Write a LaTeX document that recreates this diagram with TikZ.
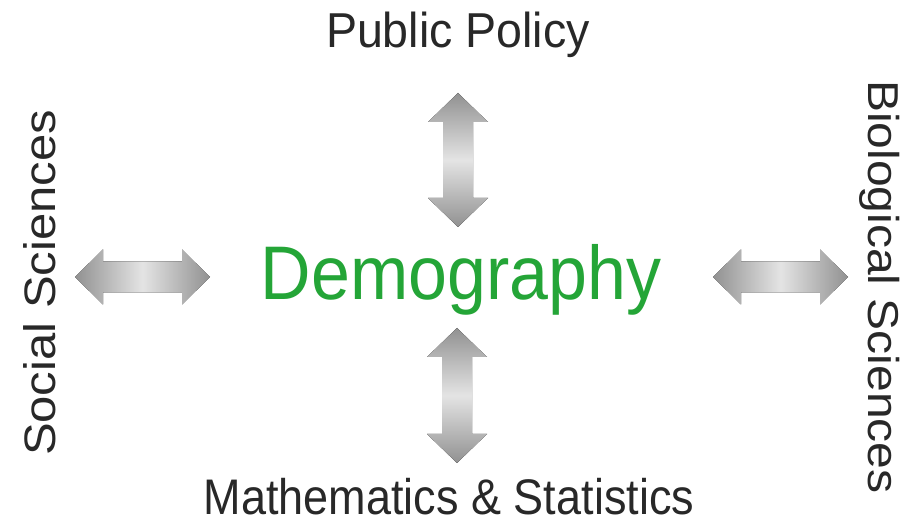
\documentclass[tikz,border=0pt]{standalone}
\usepackage{fontspec}
\setmainfont{Liberation Sans}
\usetikzlibrary{calc}
\definecolor{demogreen}{RGB}{36,165,55}
\definecolor{txtgray}{RGB}{40,40,40}
\definecolor{arrowdark}{RGB}{145,145,145}
\definecolor{arrowlight}{RGB}{228,228,228}
\tikzset{
  lbl/.style={text=txtgray, inner sep=0pt, anchor=base},
  varrow/.style={top color=arrowdark, bottom color=arrowdark, middle color=arrowlight, draw=none},
  harrow/.style={left color=arrowdark, right color=arrowdark, middle color=arrowlight, draw=none},
}
% vertical double arrow between two named coordinates (top, bottom)
\newcommand\myvdbl[2]{%
  \fill[varrow] (#1) -- ++(30,29) -- ++(-15,0) -- ($(#2)+(15,-29)$) -- ++(15,0) -- (#2)
    -- ++(-30,-29) -- ++(15,0) -- ($(#1)+(-15,29)$) -- ++(-15,0) -- cycle;}
% horizontal double arrow between two named coordinates (left, right)
\newcommand\myhdbl[2]{%
  \fill[harrow] (#1) -- ++(28,-27.5) -- ++(0,12) -- ($(#2)+(-28,-15.5)$) -- ++(0,-12) -- (#2)
    -- ++(-28,27.5) -- ++(0,-12) -- ($(#1)+(28,15.5)$) -- ++(0,12) -- cycle;}
\begin{document}
\begin{tikzpicture}[x=1pt,y=-1pt]
\useasboundingbox[fill=white] (0,0) rectangle (906,526);

\node[lbl, font=\fontsize{49}{55}\selectfont] (pp) at (458,48) {\scalebox{0.95}[1]{Public Policy}};
\node[anchor=base, inner sep=0pt, text=demogreen, font=\fontsize{76}{82}\selectfont] (demo) at (461,300) {\scalebox{0.92}[1]{Demography}};
\node[lbl, font=\fontsize{50}{56}\selectfont] (ms) at (449,515) {\scalebox{0.9}[1]{Mathematics \& Statistics}};
\node[lbl, rotate=90, font=\fontsize{49}{55}\selectfont] (ss) at (55,283) {\scalebox{1}[0.9]{Social Sciences}};
\node[lbl, rotate=-90, font=\fontsize{48}{54}\selectfont] (bs) at (868,287) {\scalebox{1}[0.9]{Biological Sciences}};

\coordinate (upA) at (458,93);
\coordinate (upB) at (458,227);
\coordinate (dnA) at (457,328);
\coordinate (dnB) at (457,463);
\coordinate (ltA) at (75,277);
\coordinate (ltB) at (210,277);
\coordinate (rtA) at (713,277);
\coordinate (rtB) at (848,277);

\myvdbl{upA}{upB}
\myvdbl{dnA}{dnB}
\myhdbl{ltA}{ltB}
\myhdbl{rtA}{rtB}
\end{tikzpicture}
\end{document}
